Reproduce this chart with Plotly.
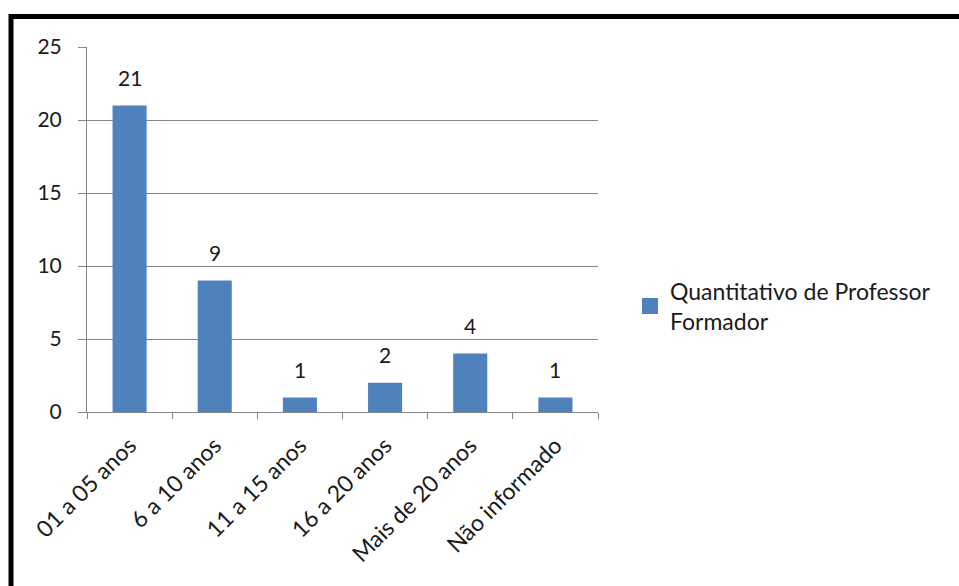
import plotly.graph_objects as go

categories = ["01 a 05 anos", "6 a 10 anos", "11 a 15 anos", "16 a 20 anos", "Mais de 20 anos", "Não informado"]
values = [21, 9, 1, 2, 4, 1]
series_name = "Quantitativo de Professor<br>Formador"
y_ticks = [0, 5, 10, 15, 20, 25]

W, H = 959, 586
L, R, T, B = 87, 598, 47, 412
FONT = "Lato"
TXT = "#1a1a1a"
BAR = "#4f81bd"

fig = go.Figure()
fig.add_trace(go.Bar(
    x=categories, y=values, name=series_name,
    marker=dict(color=BAR, line=dict(width=0)),
    showlegend=False,
))
fig.add_trace(go.Scatter(
    x=[None], y=[None], mode="markers", name=series_name,
    marker=dict(symbol="square", size=16, color=BAR),
    showlegend=True,
))

def px_x(px):
    return (px - L) / (R - L)

def px_y(py):
    return (B - py) / (B - T)

annotations = [
    dict(x=c, y=v, xref="x", yref="y", text=str(v), showarrow=False,
         yanchor="middle", yshift=28, font=dict(family=FONT, size=21, color=TXT))
    for c, v in zip(categories, values)
]

fig.update_layout(
    width=W, height=H,
    margin=dict(l=L, r=W - R, t=T, b=H - B, autoexpand=False),
    paper_bgcolor="white", plot_bgcolor="white",
    font=dict(family=FONT, size=21, color=TXT),
    bargap=0.6,
    showlegend=True,
    legend=dict(x=px_x(630), xanchor="left", y=px_y(306), yanchor="middle",
                font=dict(family=FONT, size=23, color=TXT),
                bgcolor="rgba(0,0,0,0)", itemwidth=30),
    xaxis=dict(
        type="category", tickangle=-45,
        showline=True, linecolor="#868686", linewidth=1,
        ticks="outside", ticklen=6, tickcolor="#868686", tickson="boundaries",
        showgrid=False,
        tickfont=dict(family=FONT, size=23, color=TXT),
        ticklabelstandoff=10,
    ),
    yaxis=dict(
        range=[0, 25], tickvals=y_ticks,
        showline=True, linecolor="#868686", linewidth=1,
        ticks="outside", ticklen=8, tickcolor="#868686",
        showgrid=True, gridcolor="#868686", gridwidth=1,
        zeroline=False,
        tickfont=dict(family=FONT, size=21, color=TXT),
        ticklabelstandoff=12,
    ),
    annotations=annotations,
    shapes=[
        dict(type="rect", xref="paper", yref="paper",
             x0=px_x(11), x1=px_x(1000), y0=px_y(700), y1=px_y(16.5),
             line=dict(color="black", width=5), fillcolor="rgba(0,0,0,0)", layer="above"),
    ],
)

fig.write_html("out.html")
